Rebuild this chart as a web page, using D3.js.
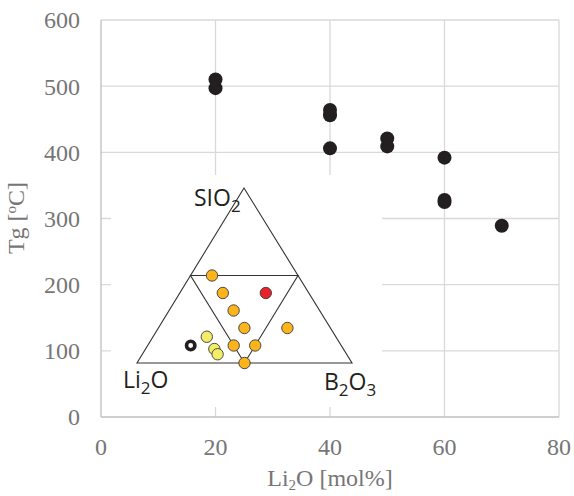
<!DOCTYPE html>
<html>
<head>
<meta charset="utf-8">
<script src="https://cdn.jsdelivr.net/npm/d3@7"></script>
<style>
  body { margin: 0; background: #fff; }
  svg { display: block; }
</style>
</head>
<body>
<svg id="chart"></svg>
<script>
// main scatter: Li2O content vs Tg
const li2o = [20, 20, 40, 40, 40, 50, 50, 60, 60, 60, 70];
const tg = [510, 497, 464, 456, 406, 421, 409, 392, 328, 325, 289];

const xTicks = [0, 20, 40, 60, 80];
const yTicks = [0, 100, 200, 300, 400, 500, 600];

// inset ternary: compositions in mol% (Li2O, SiO2, B2O3)
const terLi = [40, 40, 20, 40, 40, 20, 60, 50, 40, 60, 60, 50, 70];
const terSi = [50, 40, 40, 30, 20, 20, 15, 10, 10, 8, 5, 0, 10];
const terB = [10, 20, 40, 30, 40, 60, 25, 40, 50, 32, 35, 50, 20];
const terKind = ["o", "o", "r", "o", "o", "o", "y", "o", "o", "y", "y", "o", "ring"];

const width = 574;
const height = 496;
const margin = { top: 20, right: 15, bottom: 79, left: 101 };

const svg = d3.select("#chart").attr("width", width).attr("height", height);

const x = d3.scaleLinear().domain([0, 80]).range([margin.left, width - margin.right]);
const y = d3.scaleLinear().domain([0, 600]).range([height - margin.bottom, margin.top]);

// grid
svg.append("g").selectAll("line.h")
    .data(yTicks.filter(d => d > 0))
    .enter().append("line")
    .attr("x1", x(0)).attr("x2", x(80))
    .attr("y1", d => y(d)).attr("y2", d => y(d))
    .attr("stroke", "#d9d9d9").attr("stroke-width", 1.3);

svg.append("g").selectAll("line.v")
    .data(xTicks.filter(d => d > 0))
    .enter().append("line")
    .attr("x1", d => x(d)).attr("x2", d => x(d))
    .attr("y1", y(0)).attr("y2", y(600))
    .attr("stroke", "#d9d9d9").attr("stroke-width", 1.3);

// axis lines
svg.append("line")
    .attr("x1", x(0)).attr("x2", x(0)).attr("y1", y(0)).attr("y2", y(600))
    .attr("stroke", "#bfbfbf").attr("stroke-width", 1.3);
svg.append("line")
    .attr("x1", x(0)).attr("x2", x(80)).attr("y1", y(0)).attr("y2", y(0))
    .attr("stroke", "#bfbfbf").attr("stroke-width", 1.3);

// tick labels
const tickFont = "'Liberation Serif', 'Times New Roman', serif";
svg.append("g").selectAll("text")
    .data(yTicks)
    .enter().append("text")
    .attr("x", 80).attr("y", d => y(d))
    .attr("dy", "0.35em")
    .attr("text-anchor", "end")
    .attr("font-family", tickFont).attr("font-size", 24)
    .attr("fill", "#767676")
    .text(d => d);

svg.append("g").selectAll("text")
    .data(xTicks)
    .enter().append("text")
    .attr("x", d => x(d)).attr("y", 455)
    .attr("text-anchor", "middle")
    .attr("font-family", tickFont).attr("font-size", 24)
    .attr("fill", "#767676")
    .text(d => d);

// axis titles
const xt = svg.append("text")
    .attr("x", 330).attr("y", 486)
    .attr("text-anchor", "middle")
    .attr("font-family", tickFont).attr("font-size", 24)
    .attr("fill", "#767676");
xt.append("tspan").text("Li");
xt.append("tspan").attr("dy", 4).attr("font-size", 15).text("2");
xt.append("tspan").attr("dy", -4).text("O [mol%]");

const yt = svg.append("text")
    .attr("transform", "translate(24,218) rotate(-90)")
    .attr("text-anchor", "middle")
    .attr("font-family", tickFont).attr("font-size", 24)
    .attr("fill", "#767676");
yt.append("tspan").text("Tg [");
yt.append("tspan").attr("dy", -8).attr("font-size", 15).text("o");
yt.append("tspan").attr("dy", 8).text("C]");

// main points
svg.append("g").selectAll("circle")
    .data(li2o)
    .enter().append("circle")
    .attr("cx", d => x(d))
    .attr("cy", (d, i) => y(tg[i]))
    .attr("r", 7)
    .attr("fill", "#231f20");

// inset panel
const inset = svg.append("g");
inset.append("rect")
    .attr("x", 111).attr("y", 175)
    .attr("width", 271).attr("height", 232)
    .attr("fill", "#fff");

const apex = [244, 188], left = [137, 363], right = [352, 363];
const sScale = d3.scaleLinear().domain([0, 100]).range([0, 1]);
function tern(l, s, b) {
    const a = sScale(l), c = sScale(s), e = sScale(b);
    const t = a + c + e;
    return [
        (a * left[0] + c * apex[0] + e * right[0]) / t,
        (a * left[1] + c * apex[1] + e * right[1]) / t
    ];
}

const line = d3.line();
inset.append("path")
    .attr("d", line([apex, left, right]) + "Z")
    .attr("fill", "none").attr("stroke", "#333").attr("stroke-width", 1.1);
inset.append("path")
    .attr("d", line([tern(50, 50, 0), tern(0, 50, 50), tern(50, 0, 50)]) + "Z")
    .attr("fill", "none").attr("stroke", "#333").attr("stroke-width", 1.1);

const kindFill = { o: "#fbb41c", r: "#e8212b", y: "#f2ec66", ring: "#fff" };
inset.append("g").selectAll("circle")
    .data(terLi)
    .enter().append("circle")
    .attr("cx", (d, i) => tern(d, terSi[i], terB[i])[0])
    .attr("cy", (d, i) => tern(d, terSi[i], terB[i])[1])
    .attr("r", (d, i) => terKind[i] === "ring" ? 4.2 : 5.7)
    .attr("fill", (d, i) => kindFill[terKind[i]])
    .attr("stroke", (d, i) => terKind[i] === "ring" ? "#231f20" : "#3a3a3a")
    .attr("stroke-width", (d, i) => terKind[i] === "ring" ? 3.6 : 0.9);

// vertex labels
const labFont = "'Open Sans', 'Noto Sans', sans-serif";
function vertexLabel(px, py, parts) {
    const t = inset.append("text")
        .attr("x", px).attr("y", py)
        .attr("font-family", labFont).attr("font-size", 23)
        .attr("fill", "#231f20");
    let shift = 0;
    parts.forEach(p => {
        const sub = p.sub === true;
        const dy = (sub ? 6 : 0) - shift;
        shift = sub ? 6 : 0;
        t.append("tspan").attr("dy", dy).attr("font-size", sub ? 17 : 23).text(p.t);
    });
    return t;
}
vertexLabel(194, 206, [{ t: "SIO" }, { t: "2", sub: true }]);
vertexLabel(123, 388, [{ t: "Li" }, { t: "2", sub: true }, { t: "O" }]);
vertexLabel(324, 390, [{ t: "B" }, { t: "2", sub: true }, { t: "O" }, { t: "3", sub: true }]);
</script>
</body>
</html>
